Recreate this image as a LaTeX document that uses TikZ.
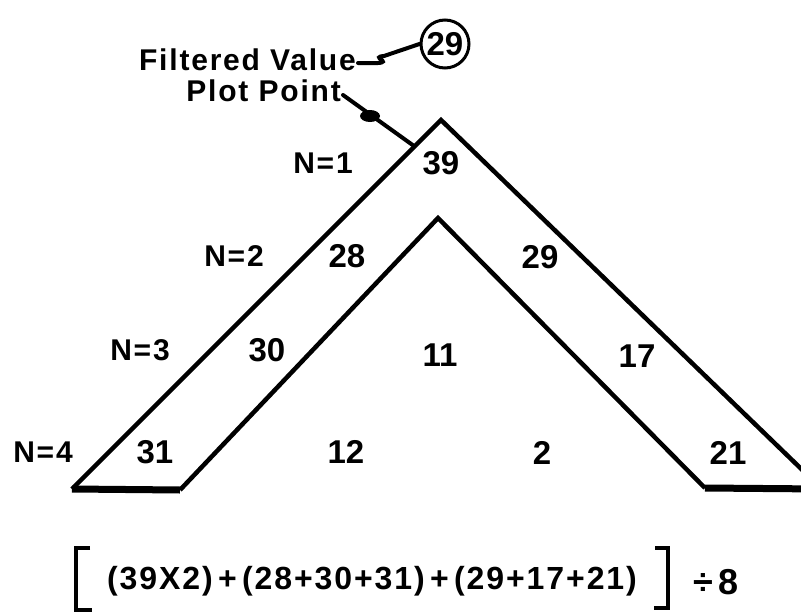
\documentclass[tikz,border=0pt]{standalone}
\usepackage{fontspec}
\setmainfont{Liberation Sans}
\begin{document}
\begin{tikzpicture}[x=1pt,y=-1pt,
  lbl/.style={font=\fontsize{30}{32}\selectfont\bfseries\addfontfeature{LetterSpace=6}, inner sep=0pt},
  num/.style={font=\fontsize{33}{35}\selectfont\bfseries, inner sep=0pt},
  edge/.style={line width=4.5pt, line join=miter},
  base/.style={line width=7pt},
  ptr/.style={line width=4pt, line cap=round}]
\useasboundingbox (0,0) rectangle (801,613);
% shape corners
\coordinate (olb) at (72,489);
\coordinate (oap) at (441,120);
\coordinate (orb) at (822,489);
\coordinate (ilb) at (180,490);
\coordinate (iap) at (438,218);
\coordinate (irb) at (705,488);
\draw[edge] (ilb) -- (iap) -- (irb);
\draw[edge] (olb) -- (oap) -- (orb);
\draw[base] (olb) -- (ilb);
\draw[base] (irb) -- (orb);
% labels
\node[lbl, anchor=east] (fv) at (356,60) {Filtered Value};
\node[lbl, anchor=east] (pp) at (341,91) {Plot Point};
\node[draw, line width=3pt, circle, minimum size=48pt, num, inner sep=0pt] (c29) at (445,44) {29};
% connectors
\draw[ptr] (fv.east) ++(2,3) -- ++(20,0) .. controls +(14,-1) and +(-14,1) .. ++(6,-7) -- (c29.west);
\coordinate (pphit) at (414,146);
\draw[ptr] (pp.east) ++(2,4) -- (pphit);
\fill (370,116) ellipse (10pt and 6pt);
% N labels
\node[lbl] (n1) at (323,163) {N=1};
\node[lbl] (n2) at (234,256) {N=2};
\node[lbl] (n3) at (140,350) {N=3};
\node[lbl] (n4) at (43,452) {N=4};
% values
\node[num] (v39) at (441,163) {39};
\node[num] (v28) at (347,256) {28};
\node[num] (v29) at (540,257) {29};
\node[num] (v30) at (267,350) {30};
\node[num] (v11) at (440,355) {11};
\node[num] (v17) at (637,356) {17};
\node[num] (v31) at (155,452) {31};
\node[num] (v12) at (346,452) {12};
\node[num] (v2) at (542,453) {2};
\node[num] (v21) at (728,453) {21};
% formula
\node[num, font=\fontsize{32}{34}\selectfont\bfseries\addfontfeature{LetterSpace=6}] (form) at (372,581) {(39X2)\,+\,(28+30+31)\,+\,(29+17+21)};
\draw[line width=4pt] (90,548) -- (76,548) -- (76,610) -- (92,610);
\draw[line width=4pt] (655,548) -- (668,548) -- (668,608) -- (654,608);
\node[num, font=\fontsize{36}{38}\selectfont\bfseries] (div) at (716,582) {÷\,8};
\end{tikzpicture}
\end{document}
